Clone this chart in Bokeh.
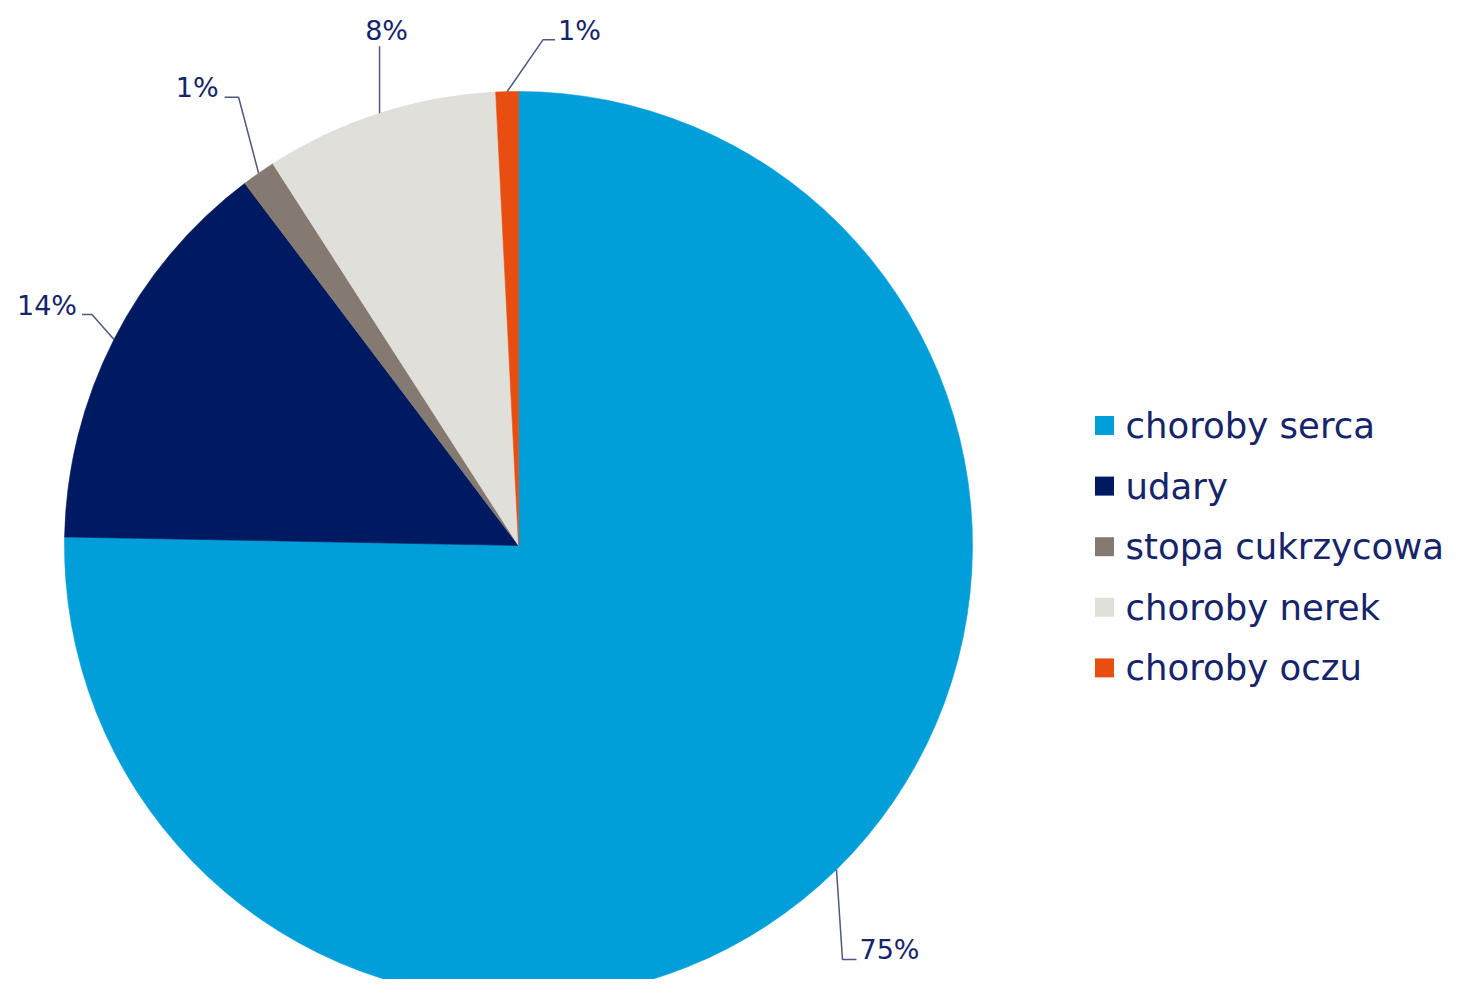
import math
from bokeh.plotting import figure
from bokeh.models import Range1d, ColumnDataSource
from bokeh.core.properties import value
from bokeh.embed import file_html
from bokeh.resources import INLINE

# ---- data ----
categories = ["choroby serca", "udary", "stopa cukrzycowa", "choroby nerek", "choroby oczu"]
shares = [75.3, 14.4, 1.2, 8.3, 0.8]
colors = ["#009FDA", "#001A62", "#857A71", "#E1DFDA", "#E84E10"]
pct_labels = [f"{round(v):d}%" for v in shares]

# ---- style (label leader-line geometry, relative to slice edge) ----
elbow_offsets = [(6, -90), (-22, 25), (-20, 76), (0, 67), (36, 52)]
tail_lengths = [14, -10, -14, 0, 12]
text_offsets = [(3, 10), (-5, 9), (-6, 10), (7, 16), (3, 9)]
text_aligns = ["left", "right", "right", "center", "left"]

FONT = "DejaVu Sans"
TEXT_COLOR = "#16246A"
LINE_COLOR = "#4E5882"
R = 454

p = figure(width=1445, height=979, x_range=Range1d(-518, 927), y_range=Range1d(-434, 545),
           output_backend="svg", toolbar_location=None, min_border=0)
p.axis.visible = False
p.grid.visible = False
p.outline_line_color = None
p.background_fill_color = "white"
p.border_fill_color = "white"

total = sum(shares)
starts, ends, mids = [], [], []
cum = 0.0
for v in shares:
    a0 = math.pi / 2 - cum / total * 2 * math.pi
    cum += v
    a1 = math.pi / 2 - cum / total * 2 * math.pi
    starts.append(a0)
    ends.append(a1)
    mids.append((a0 + a1) / 2)

src = ColumnDataSource(dict(start=starts, end=ends, color=colors))
p.wedge(x=0, y=0, radius=R, start_angle="start", end_angle="end",
        direction="clock", fill_color="color", line_color="color", line_width=0.6, source=src)

# leader lines and percentage labels
xs_list, ys_list = [], []
tx, ty = [], []
for i, m in enumerate(mids):
    ex = R * math.cos(m)
    ey = R * math.sin(m)
    bx = ex + elbow_offsets[i][0]
    by = ey + elbow_offsets[i][1]
    cx = bx + tail_lengths[i]
    xs_list.append([ex, bx, cx])
    ys_list.append([ey, by, by])
    tx.append(cx + text_offsets[i][0])
    ty.append(by + text_offsets[i][1])

p.multi_line(xs=xs_list, ys=ys_list, line_color=LINE_COLOR, line_width=1.5)
for i in range(len(shares)):
    p.text(x=[tx[i]], y=[ty[i]], text=[pct_labels[i]], text_font=value(FONT),
           text_font_size="27px", text_color=TEXT_COLOR, text_align=text_aligns[i],
           text_baseline="middle")

# legend
leg_x = 586
leg_top = 120
leg_gap = 60.6
leg_y = [leg_top - k * leg_gap for k in range(len(categories))]
p.rect(x=[leg_x] * len(categories), y=leg_y, width=19, height=19, fill_color=colors,
       line_color=None)
p.text(x=[leg_x + 21] * len(categories), y=leg_y, text=categories, text_font=value(FONT),
       text_font_size="35.5px", text_color=TEXT_COLOR, text_align="left", text_baseline="middle")

open("out.html", "w").write(file_html(p, INLINE))
